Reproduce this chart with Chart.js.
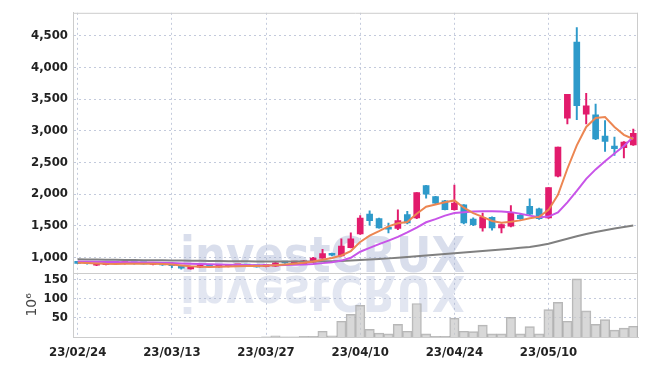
<!DOCTYPE html>
<html>
<head>
<meta charset="utf-8">
<script src="https://cdn.jsdelivr.net/npm/chart.js@4.4.1/dist/chart.umd.min.js"></script>
<style>
  body { margin: 0; background: #fff; }
</style>
</head>
<body>
<canvas id="chart" width="647" height="366"></canvas>
<script>
// trading days
const dates = [
  '23/02/24','23/02/27','23/02/28','23/03/02','23/03/03','23/03/06','23/03/07','23/03/08','23/03/09','23/03/10',
  '23/03/13','23/03/14','23/03/15','23/03/16','23/03/17','23/03/20','23/03/21','23/03/22','23/03/23','23/03/24',
  '23/03/27','23/03/28','23/03/29','23/03/30','23/03/31','23/04/03','23/04/04','23/04/05','23/04/06','23/04/07',
  '23/04/10','23/04/11','23/04/12','23/04/13','23/04/14','23/04/17','23/04/18','23/04/19','23/04/20','23/04/21',
  '23/04/24','23/04/25','23/04/26','23/04/27','23/04/28','23/05/02','23/05/03','23/05/04','23/05/08','23/05/09',
  '23/05/10','23/05/11','23/05/12','23/05/15','23/05/16','23/05/17','23/05/18','23/05/19','23/05/22','23/05/23'
];

const openP = [
  915, 905, 878, 885, 905, 902, 905, 905, 888, 895,
  880, 860, 820, 845, 865, 850, 858, 868, 870, 865,
  855, 860, 918, 912, 895, 925, 990, 1060, 1025, 1155,
  1372, 1684, 1612, 1476, 1456, 1675, 1622, 2133, 1961, 1894,
  1753, 1831, 1606, 1466, 1633, 1466, 1492, 1664, 1805, 1769,
  1622, 2284, 3200, 4398, 3262, 3253, 2914, 2758, 2731, 2778
];
const highP = [
  925, 910, 905, 905, 915, 912, 912, 912, 902, 900,
  885, 865, 855, 875, 875, 880, 875, 880, 880, 870,
  870, 925, 925, 920, 955, 1000, 1128, 1070, 1294, 1387,
  1660, 1737, 1620, 1544, 1753, 1727, 2023, 2140, 1965, 1900,
  2144, 1835, 1625, 1700, 1640, 1530, 1820, 1680, 1925, 1780,
  2101, 2742, 3575, 4628, 3591, 3419, 3159, 2898, 2830, 3028
];
const lowP = [
  900, 895, 870, 880, 895, 895, 895, 895, 880, 875,
  840, 815, 815, 840, 855, 845, 850, 860, 860, 845,
  850, 855, 905, 905, 890, 920, 985, 1025, 1020, 1150,
  1365, 1508, 1460, 1387, 1440, 1530, 1610, 1934, 1850, 1750,
  1745, 1530, 1500, 1414, 1430, 1387, 1480, 1600, 1660, 1600,
  1615, 2270, 3106, 3175, 3106, 2860, 2675, 2612, 2570, 2770
];
const closeP = [
  905, 900, 898, 900, 902, 908, 900, 898, 895, 880,
  868, 830, 845, 865, 860, 872, 870, 872, 865, 850,
  860, 915, 912, 915, 945, 990, 1060, 1035, 1180, 1294,
  1622, 1581, 1466, 1445, 1581, 1544, 2023, 1997, 1856, 1753,
  1856, 1544, 1519, 1633, 1466, 1519, 1700, 1612, 1684, 1612,
  2101, 2742, 3575, 3394, 3394, 2872, 2831, 2716, 2820, 2961
];

// moving averages
const ma5 = [
  915, 912, 906, 900, 898, 899, 901, 901, 899, 895,
  887, 872, 860, 852, 849, 851, 856, 862, 866, 865,
  868, 878, 888, 900, 915, 935, 962, 990, 1030, 1100,
  1245, 1345, 1415, 1490, 1540, 1560, 1690, 1800, 1835, 1870,
  1900, 1785, 1700, 1640, 1575, 1548, 1562, 1585, 1618, 1640,
  1750, 1990, 2400, 2770, 3060, 3200, 3215, 3060, 2935, 2870
];
const ma20 = [
  935, 933, 931, 929, 927, 925, 923, 921, 918, 915,
  911, 906, 901, 896, 892, 888, 885, 882, 880, 878,
  877, 878, 880, 884, 890, 898, 910, 925, 950, 995,
  1090, 1150, 1210, 1265, 1325, 1395, 1470, 1555, 1605, 1660,
  1700, 1715, 1725, 1730, 1730, 1725, 1715, 1690, 1660, 1635,
  1645, 1710, 1870, 2050, 2240, 2390, 2520, 2640, 2760, 2900
];
const ma60 = [
  970, 968, 966, 964, 962, 960, 958, 957, 956, 955,
  953, 951, 949, 947, 945, 943, 941, 939, 938, 937,
  936, 935, 935, 935, 936, 937, 939, 941, 945, 950,
  958, 966, 975, 985, 996, 1008, 1018, 1030, 1042, 1054,
  1065, 1077, 1089, 1101, 1113, 1125, 1138, 1151, 1165, 1190,
  1215, 1255, 1295, 1335, 1370, 1400, 1430, 1455, 1480, 1505
];

// volume, 10^6 shares
const volume = [
  0, 0, 0, 0, 0, 0, 0, 0, 0, 0,
  0, 0, 0, 0, 0, 0, 0, 0, 0, 0,
  0.5, 3, 0.5, 0.5, 2, 2, 15, 3, 41, 59,
  82, 20, 10, 8, 33, 15, 87, 8, 2, 2,
  49, 15, 14, 31, 8, 8, 51, 8, 27, 8,
  71, 90, 41, 151, 68, 33, 45, 18, 23, 28
];

const priceTicks = [1000, 1500, 2000, 2500, 3000, 3500, 4000, 4500];
const volTicks = [50, 100, 150];
const labelEvery = 10;

const UP = 'rgb(226,27,108)', DOWN = 'rgb(46,154,202)';
const FONT = "'DejaVu Sans Condensed', 'DejaVu Sans', sans-serif";
const GRID = '#c3cadc';

let candleColors = openP.map((o, i) => closeP[i] >= o ? UP : DOWN);

const watermark = {
  id: 'watermark',
  beforeDatasetsDraw(chart) {
    const { ctx, chartArea: a } = chart;
    const sep = chart.scales.y.bottom;
    ctx.save();
    ctx.beginPath();
    ctx.rect(a.left, a.top, a.right - a.left, a.bottom - a.top);
    ctx.clip();
    ctx.font = "bold 50px 'DejaVu Sans'";
    const txt = 'investCRUX';
    const sx = 285 / ctx.measureText(txt).width;
    ctx.fillStyle = 'rgba(160,172,208,0.4)';
    ctx.save();
    ctx.translate(180, sep - 1);
    ctx.scale(sx, 1);
    ctx.fillText(txt, 0, 0);
    ctx.restore();
    ctx.fillStyle = 'rgba(160,172,208,0.3)';
    ctx.translate(180, sep + 3);
    ctx.scale(sx, -1);
    ctx.fillText(txt, 0, 0);
    ctx.restore();
  }
};

const frame = {
  id: 'frame',
  beforeDatasetsDraw(chart) {
    const { ctx, chartArea: a } = chart;
    const sep = Math.round(chart.scales.y.bottom) + 0.5;
    ctx.save();
    ctx.strokeStyle = '#cccccc';
    ctx.lineWidth = 1;
    ctx.beginPath();
    ctx.moveTo(a.left, a.top + 0.5); ctx.lineTo(a.right, a.top + 0.5);
    ctx.moveTo(a.right - 0.5, a.top); ctx.lineTo(a.right - 0.5, a.bottom);
    ctx.moveTo(a.left, sep); ctx.lineTo(a.right, sep);
    ctx.stroke();
    ctx.restore();
  }
};

const tickFont = { family: FONT, size: 13, weight: 'bold' };

new Chart(document.getElementById('chart').getContext('2d'), {
  type: 'bar',
  data: {
    labels: dates,
    datasets: [
      { type: 'line', label: 'MA5', data: ma5, yAxisID: 'y', borderColor: 'rgb(236,134,82)', borderWidth: 2, pointRadius: 0, order: 0 },
      { type: 'line', label: 'MA20', data: ma20, yAxisID: 'y', borderColor: 'rgb(200,84,232)', borderWidth: 2, pointRadius: 0, order: 0 },
      { type: 'line', label: 'MA60', data: ma60, yAxisID: 'y', borderColor: 'rgb(128,128,128)', borderWidth: 2, pointRadius: 0, order: 0 },
      { type: 'bar', label: 'body', data: openP.map((o, i) => [o, closeP[i]]), yAxisID: 'y', backgroundColor: candleColors,
        grouped: false, barThickness: 6, minBarLength: 2, order: 1 },
      { type: 'bar', label: 'wick', data: lowP.map((l, i) => [l, highP[i]]), yAxisID: 'y', backgroundColor: candleColors,
        grouped: false, barThickness: 1.3, order: 2 },
      { type: 'bar', label: 'volume', data: volume, yAxisID: 'yv', backgroundColor: 'rgba(200,200,200,0.7)',
        borderColor: 'rgba(165,165,165,0.8)', borderWidth: 1, grouped: false,
        barPercentage: 1, categoryPercentage: 1, order: 3 }
    ]
  },
  options: {
    responsive: false,
    animation: false,
    layout: { padding: { top: 9, right: 9, left: 0, bottom: 0 } },
    plugins: { legend: { display: false }, tooltip: { enabled: false } },
    scales: {
      x: {
        offset: true,
        afterFit: s => { s.height = 29; },
        afterBuildTicks: s => { s.ticks = s.ticks.filter(t => t.value % labelEvery === 0); },
        grid: { offset: false, color: GRID, drawTicks: false },
        border: { color: '#cccccc', dash: [2, 3] },
        ticks: { autoSkip: false, maxRotation: 0, padding: 8, color: '#222', font: tickFont }
      },
      yv: {
        position: 'left',
        stack: 'panels',
        stackWeight: 65,
        min: 0,
        max: 167,
        afterFit: s => { s.width = 73; },
        afterBuildTicks: s => { s.ticks = volTicks.map(v => ({ value: v })); },
        grid: { color: GRID, drawTicks: false },
        border: { color: '#cccccc', dash: [2, 3] },
        ticks: { autoSkip: false, padding: 5, color: '#222', font: tickFont },
        title: { display: true, text: '10\u2076', color: '#444', font: { family: 'DejaVu Sans', size: 14 }, padding: { top: 24 } }
      },
      y: {
        position: 'left',
        stack: 'panels',
        stackWeight: 263,
        min: 758,
        max: 4862,
        afterFit: s => { s.width = 73; },
        afterBuildTicks: s => { s.ticks = priceTicks.map(v => ({ value: v })); },
        grid: { color: GRID, drawTicks: false },
        border: { color: '#cccccc', dash: [2, 3] },
        ticks: { autoSkip: false, padding: 5, color: '#222', font: tickFont, callback: v => v.toLocaleString('en-US') }
      }
    }
  },
  plugins: [watermark, frame]
});
</script>
</body>
</html>
